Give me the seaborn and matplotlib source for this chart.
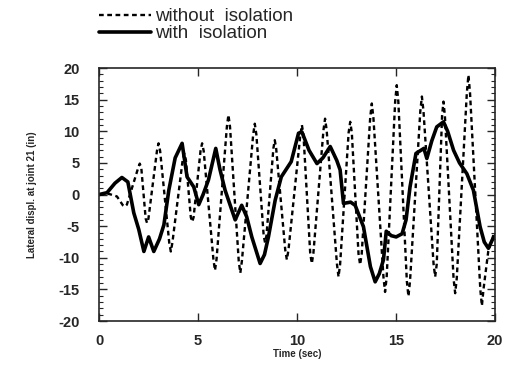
import numpy as np
import pandas as pd
import matplotlib
matplotlib.use("Agg")
import matplotlib.pyplot as plt
from matplotlib.ticker import MultipleLocator
import seaborn as sns

# response without isolation (dashed)
time_without = [0.0, 0.5, 0.9, 1.2, 1.3, 1.4,
                1.97, 2.05, 2.13, 2.35, 2.42, 2.49, 2.92, 3.0, 3.08, 3.54, 3.62, 3.7,
                4.22, 4.3, 4.38, 4.63, 4.7, 4.77, 5.12, 5.2, 5.28, 5.77, 5.85, 5.93,
                6.45, 6.53, 6.61, 7.05, 7.13, 7.21, 7.78, 7.86, 7.94, 8.31, 8.38, 8.45,
                8.8, 8.87, 8.94, 9.4, 9.48, 9.56, 10.16, 10.24, 10.32, 10.66, 10.74, 10.82,
                11.33, 11.41, 11.49, 12.01, 12.09, 12.17, 12.6, 12.68, 12.76, 13.1, 13.18, 13.26,
                13.69, 13.77, 13.85, 14.36, 14.44, 14.52, 14.95, 15.03, 15.11, 15.54, 15.62, 15.7,
                16.22, 16.3, 16.38, 16.89, 16.97, 17.05, 17.32, 17.39, 17.46, 17.9, 17.98, 18.06,
                18.57, 18.65, 18.73, 19.25, 19.33, 19.41, 19.65, 19.9, 20.0]
disp_without = [0.0, 0.1, -0.3, -1.7, -1.9, -1.6,
                4.2, 4.9, 4.2, -3.8, -4.5, -3.8, 6.9, 8.1, 6.9, -7.6, -9.0, -7.6,
                5.5, 6.5, 5.5, -3.6, -4.3, -3.6, 6.9, 8.1, 6.9, -10.2, -12.0, -10.2,
                10.7, 12.6, 10.7, -10.5, -12.4, -10.5, 9.5, 11.2, 9.5, -6.5, -7.6, -6.5,
                7.3, 8.6, 7.3, -8.8, -10.3, -8.8, 9.4, 11.0, 9.4, -9.3, -10.9, -9.3,
                10.2, 12.0, 10.2, -11.0, -13.0, -11.0, 9.8, 11.5, 9.8, -9.4, -11.1, -9.4,
                12.2, 14.4, 12.2, -13.1, -15.4, -13.1, 14.7, 17.3, 14.7, -13.7, -16.1, -13.7,
                13.2, 15.5, 13.2, -11.0, -13.0, -11.0, 12.5, 14.7, 12.5, -13.3, -15.6, -13.3,
                16.1, 18.9, 16.1, -15.0, -17.6, -15.0, -9.0, -6.5, -6.0]

# response with isolation (solid)
time_with = [0.0, 0.4, 0.8, 1.15, 1.45, 1.75, 2.0, 2.26, 2.5, 2.76, 3.05, 3.27, 3.52, 3.84, 4.19,
             4.44, 4.78, 5.03, 5.25, 5.52, 5.89, 6.1, 6.36, 6.87, 7.2, 7.45, 7.71, 8.13, 8.35,
             8.55, 8.89, 9.2, 9.7, 10.07, 10.24, 10.6, 11.0, 11.3, 11.67, 12.0, 12.17, 12.34,
             12.7, 12.93, 13.35, 13.7, 13.94, 14.15, 14.36, 14.5, 14.75, 15.0, 15.3, 15.5, 15.7,
             16.0, 16.4, 16.55, 16.8, 17.05, 17.39, 17.6, 17.9, 18.2, 18.57, 18.9, 19.24, 19.45,
             19.66, 19.85, 20.0]
disp_with = [0.0, 0.3, 1.8, 2.7, 2.0, -2.9, -5.5, -9.0, -6.7, -9.0, -7.0, -4.8, 0.7, 5.8, 8.1,
             2.8, 1.2, -1.6, 0.0, 2.3, 7.3, 4.0, 0.7, -4.0, -1.7, -3.5, -6.7, -10.9, -9.5,
             -6.7, -0.9, 2.8, 5.2, 9.7, 9.9, 7.0, 4.9, 5.8, 7.6, 5.4, 3.9, -1.4,
             -1.2, -1.7, -5.1, -11.4, -13.8, -12.5, -10.3, -5.8, -6.5, -6.7, -6.2, -4.0, 1.2,
             6.5, 7.3, 5.7, 8.5, 10.7, 11.5, 10.0, 7.0, 5.0, 3.3, 0.7, -5.1, -7.5,
             -8.5, -7.2, -6.5]

y_ticks = [-20, -15, -10, -5, 0, 5, 10, 15, 20]
x_ticks = [0, 5, 10, 15, 20]

sns.set_style("ticks")
plt.rcParams['font.family'] = ['Liberation Sans', 'DejaVu Sans']

fig = plt.figure(figsize=(5.11, 3.72), dpi=100)
ax = fig.add_axes([0.194, 0.137, 0.775, 0.680])

without = pd.DataFrame({"t": time_without, "d": disp_without})
withiso = pd.DataFrame({"t": time_with, "d": disp_with})

sns.lineplot(data=without, x="t", y="d", ax=ax, color="black", lw=1.7,
             linestyle=(0, (2.0, 1.5)), label="without  isolation", sort=False)
sns.lineplot(data=withiso, x="t", y="d", ax=ax, color="black", lw=2.6,
             label="with  isolation", sort=False)

ax.set_xlim(0, 20)
ax.set_ylim(-20, 20)
ax.set_xticks(x_ticks)
ax.set_yticks(y_ticks)
ax.set_xticklabels([str(v) for v in x_ticks], fontsize=10.5, fontweight="bold")
ax.set_yticklabels([str(v) for v in y_ticks], fontsize=10.5, fontweight="bold")
ax.yaxis.set_minor_locator(MultipleLocator(1))
ax.tick_params(which="major", direction="in", length=6, width=1, top=True, right=True, pad=9)
ax.tick_params(which="minor", direction="in", length=3, width=0.8, left=True, right=True)
ax.tick_params(axis="y", pad=14)
for s in ax.spines.values():
    s.set_linewidth(1.2)

ax.set_xlabel("Time (sec)", fontsize=7, fontweight="bold", labelpad=1)
ax.set_ylabel("Lateral displ. at joint 21 (in)", fontsize=7, fontweight="bold", labelpad=15)

handles, labels = ax.get_legend_handles_labels()
ax.get_legend().remove()
fig.legend(handles, labels, loc="upper left", bbox_to_anchor=(0.19, 0.983), frameon=False,
           fontsize=13.5, handlelength=2.8, handletextpad=0.2, labelspacing=0.0,
           borderpad=0.1, borderaxespad=0.0)

fig.savefig("out.png", dpi=100)
